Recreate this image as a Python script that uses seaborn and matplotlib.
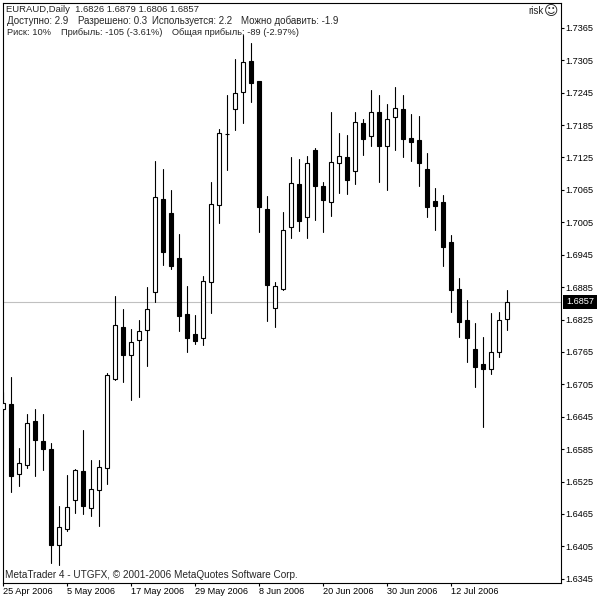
import numpy as np
import pandas as pd
import matplotlib.pyplot as plt
import seaborn as sns

# daily candles, prices in 1/10000
OPEN = [16659, 16668, 16539, 16555, 16637, 16600, 16585, 16407, 16437, 16490, 16544, 16476, 16509, 16550, 16715, 16811,
        16759, 16787, 16806, 16876, 17048, 17022, 16939, 16835, 16798, 16791, 16894, 17037, 17169, 17215, 17247, 17304,
        17267, 17030, 16846, 16881, 16996, 17076, 17015, 17139, 17072, 17043, 17115, 17126, 17100, 17189, 17165, 17209,
        17146, 17200, 17215, 17161, 17158, 17104, 17045, 17043, 16968, 16881, 16824, 16770, 16742, 16733, 16765, 16826]
HIGH = [16691, 16718, 16587, 16650, 16659, 16650, 16596, 16479, 16537, 16548, 16620, 16565, 16565, 16726, 16868, 16844,
        16807, 16824, 16885, 17119, 17104, 17065, 16983, 16887, 16833, 16906, 17080, 17178, 17241, 17308, 17352, 17337,
        17267, 17054, 16894, 17024, 17126, 17122, 17128, 17143, 17080, 17209, 17171, 17167, 17209, 17196, 17250, 17241,
        17224, 17256, 17241, 17206, 17202, 17133, 17069, 17056, 16981, 16902, 16861, 16818, 16793, 16837, 16839, 16879]
LOW = [16585, 16505, 16516, 16550, 16535, 16546, 16374, 16370, 16433, 16466, 16465, 16461, 16442, 16520, 16713, 16709,
       16676, 16681, 16739, 16857, 16926, 16919, 16804, 16765, 16780, 16778, 16837, 17004, 17102, 17176, 17189, 17228,
       16987, 16822, 16811, 16880, 16976, 16989, 16976, 17009, 16987, 17017, 17059, 17057, 17076, 17130, 17146, 17080,
       17065, 17139, 17126, 17119, 17072, 17015, 16991, 16924, 16839, 16793, 16746, 16700, 16626, 16724, 16755, 16806]
CLOSE = [16670, 16535, 16559, 16633, 16602, 16585, 16407, 16440, 16477, 16546, 16479, 16511, 16552, 16722, 16815, 16759,
         16783, 16804, 16844, 17052, 16950, 16924, 16831, 16791, 16785, 16896, 17039, 17171, 17169, 17245, 17302, 17263,
         17033, 16889, 16887, 16991, 17078, 17007, 17115, 17072, 17046, 17117, 17128, 17083, 17191, 17159, 17209, 17146,
         17196, 17217, 17159, 17154, 17115, 17033, 17035, 16959, 16880, 16820, 16791, 16737, 16733, 16765, 16824, 16857]

DATE_POS = [0, 8, 16, 24, 32, 40, 48, 56]
DATE_LABELS = ['25 Apr 2006', '5 May 2006', '17 May 2006', '29 May 2006', '8 Jun 2006', '20 Jun 2006', '30 Jun 2006',
               '12 Jul 2006']
PRICE_TICKS = [1.6345, 1.6405, 1.6465, 1.6525, 1.6585, 1.6645, 1.6705, 1.6765, 1.6825, 1.6885, 1.6945, 1.7005,
               1.7065, 1.7125, 1.7185, 1.7245, 1.7305, 1.7365]
LAST_PRICE = 1.6857

FONT = 'Liberation Sans'
FS = 7.0
FS_AXIS = 6.6


def px_text(fig, x, y, s, **kw):
    # place text by pixel position, measured from the top left
    kw.setdefault('family', FONT)
    kw.setdefault('fontsize', FS)
    kw.setdefault('va', 'center')
    return fig.text(x / 600, 1 - y / 600, s, **kw)


def plot_chart():
    sns.set_theme(style='white')
    plt.rcParams['font.family'] = [FONT, 'DejaVu Sans']

    df = pd.DataFrame({'open': OPEN, 'high': HIGH, 'low': LOW, 'close': CLOSE}) / 10000
    df['day'] = np.arange(len(df))

    fig = plt.figure(figsize=(6, 6), dpi=100, facecolor='white')
    ax = fig.add_axes([2.5 / 600, 1 - 582.5 / 600, 558 / 600, 580 / 600])

    ax.axhline(LAST_PRICE, color='#c0c0c0', lw=0.8, zorder=1)

    # wicks, one line per day
    wicks = df.melt(id_vars='day', value_vars=['high', 'low'], value_name='price')
    sns.lineplot(data=wicks, x='day', y='price', units='day', estimator=None, sort=False,
                 color='black', lw=0.8, ax=ax, zorder=2, legend=False)

    # bodies
    top = df[['open', 'close']].max(axis=1)
    bottom = df[['open', 'close']].min(axis=1)
    up = df['close'] >= df['open']
    ax.bar(df['day'][up], (top - bottom)[up], bottom=bottom[up], width=0.5,
           facecolor='white', edgecolor='black', lw=0.8, zorder=3)
    ax.bar(df['day'][~up], (top - bottom)[~up], bottom=bottom[~up], width=0.5,
           facecolor='black', edgecolor='black', lw=0.8, zorder=3)

    ax.set_xlim(-0.1, 69.65)
    ax.set_ylim(1.6338, 1.7412)
    ax.set_xlabel('')
    ax.set_ylabel('')

    for side in ax.spines.values():
        side.set_visible(True)
        side.set_color('black')
        side.set_linewidth(0.8)

    ax.yaxis.tick_right()
    ax.set_yticks(PRICE_TICKS)
    ax.set_yticklabels([f'{p:.4f}' for p in PRICE_TICKS], family=FONT, fontsize=FS_AXIS, color='black')
    ax.set_xticks(DATE_POS)
    ax.set_xticklabels(DATE_LABELS, family=FONT, fontsize=FS_AXIS, color='black', ha='left')
    ax.tick_params(axis='both', direction='out', length=2.5, width=0.8, color='black', pad=1,
                   bottom=True, right=True)

    # current price tag
    px_text(fig, 566, 302, f'{LAST_PRICE:.4f}', color='white', fontsize=FS_AXIS,
            bbox=dict(boxstyle='square,pad=0.28', facecolor='black', edgecolor='black', lw=0))

    # terminal overlay text
    px_text(fig, 6, 10, 'EURAUD,Daily  1.6826 1.6879 1.6806 1.6857', fontsize=6.8)
    px_text(fig, 7, 21, 'Доступно: 2.9')
    px_text(fig, 78, 21, 'Разрешено: 0.3')
    px_text(fig, 152, 21, 'Используется: 2.2')
    px_text(fig, 241, 21, 'Можно добавить: -1.9')
    px_text(fig, 7, 32.5, 'Риск: 10%', fontsize=6.7)
    px_text(fig, 61, 32.5, 'Прибыль: -105 (-3.61%)', fontsize=6.7)
    px_text(fig, 172, 32.5, 'Общая прибыль: -89 (-2.97%)', fontsize=6.7)
    px_text(fig, 528, 11, 'risk')
    px_text(fig, 551, 11, '\u263a', family='DejaVu Sans', fontsize=10, ha='center')
    px_text(fig, 5, 575, 'MetaTrader 4 - UTGFX, © 2001-2006 MetaQuotes Software Corp.', fontsize=7.2)

    fig.savefig('out.png', dpi=100)


plot_chart()
